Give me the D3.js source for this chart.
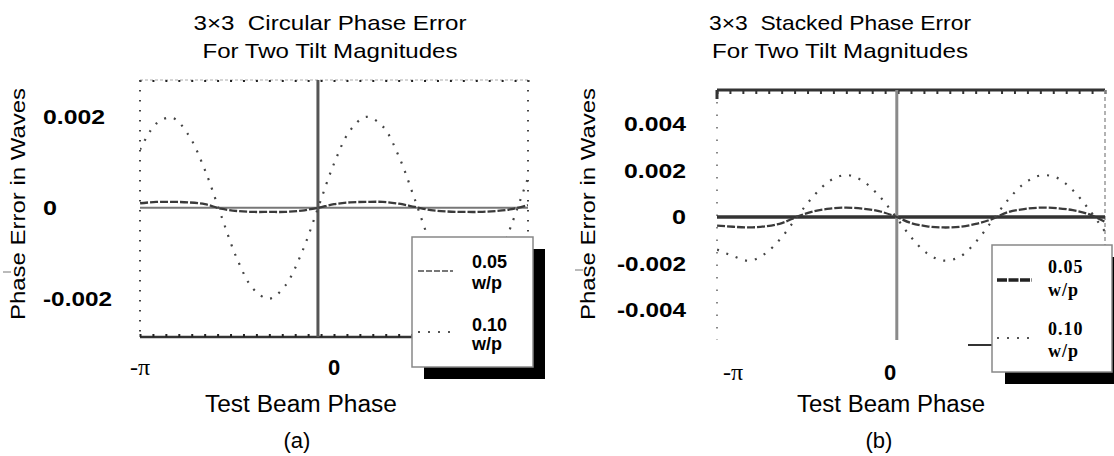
<!DOCTYPE html>
<html>
<head>
<meta charset="utf-8">
<script src="https://cdn.jsdelivr.net/npm/d3@7"></script>
<style>
  body { margin: 0; background: #fff; }
  svg { display: block; font-family: "Liberation Sans", Arial, Helvetica, sans-serif; }
</style>
</head>
<body>
<svg id="chart" width="1114" height="456"></svg>
<script>
// Test beam phase samples (radians), pi/12 apart
const phase = [-3.14, -2.88, -2.62, -2.36, -2.09, -1.83, -1.57, -1.31, -1.05, -0.79, -0.52, -0.26,
  0, 0.26, 0.52, 0.79, 1.05, 1.31, 1.57, 1.83, 2.09, 2.36, 2.62, 2.88, 3.14];

// Phase error, in thousandths of a wave
const circular005 = [0.10, 0.13, 0.13, 0.12, 0.08, -0.02, -0.07, -0.09, -0.09, -0.09, -0.06, 0.00,
  0.08, 0.12, 0.13, 0.13, 0.09, 0.02, -0.05, -0.08, -0.09, -0.09, -0.07, -0.03, 0.06];
const circular010 = [1.28, 1.85, 1.98, 1.61, 0.83, -0.16, -1.12, -1.78, -2.00, -1.71, -0.98, -0.01,
  0.97, 1.70, 2.00, 1.79, 1.13, 0.18, -0.82, -1.60, -1.98, -1.86, -1.26, -0.35, 0.65];
const stacked005 = [-0.37, -0.42, -0.45, -0.40, -0.26, 0.03, 0.25, 0.36, 0.40, 0.36, 0.25, 0.03,
  -0.26, -0.40, -0.45, -0.42, -0.30, -0.09, 0.21, 0.34, 0.40, 0.38, 0.29, 0.12, -0.21];
const stacked010 = [-1.40, -1.68, -1.88, -1.57, -0.86, 0.06, 0.92, 1.56, 1.80, 1.56, 0.92, 0.06,
  -0.86, -1.56, -1.87, -1.71, -1.07, -0.18, 0.73, 1.43, 1.78, 1.69, 1.15, 0.33, -0.62];

const xTicks = [-Math.PI, 0];
const xTickLabels = ["-π", "0"];
const circularTicks = [0.002, 0, -0.002];
const stackedTicks = [0.004, 0.002, 0, -0.002, -0.004];
const legendLabels = [["0.05", "w/p"], ["0.10", "w/p"]];

const svg = d3.select("#chart");

// the scanned figure has wide, heavy digits; stretch glyphs to its widths
const charW = (s) => Array.from(s).reduce((w, c) => w + (c === "." ? 6 : c === "-" ? 7 : 14), 0);
const tickText = (d) => (d === 0 ? "0" : d3.format(".3f")(d).replace("−", "-"));

const panels = [
  {
    id: "a", caption: "(a)",
    title: ["3×3  Circular Phase Error", "For Two Tilt Magnitudes"],
    titleX: 330, titleLen: [273, 255],
    box: { x0: 140, x1: 528, y0: 80, y1: 337 },
    yDomain: [-0.00284, 0.00281],
    yTicks: circularTicks,
    series: [circular005, circular010],
    vLineAt: -0.26,
    yLabelX: 43, yLabelAnchor: "start",
    yTitleX: 18,
    xLabelShift: [0, 0], xLabelY: 375,
    xTitleX: 301, xTitleLen: 192, captionX: 297,
    legend: { x: 412, y: 237, w: 121, h: 130, dx: 12, dy: 12, textX: 472,
      base: [268, 289, 331, 350], sampleX: [418, 453], sampleY: [271, 332],
      font: "'Liberation Sans', Arial, sans-serif", spacing: 0 },
    stray: [3, 11, 272]
  },
  {
    id: "b", caption: "(b)",
    title: ["3×3  Stacked Phase Error", "For Two Tilt Magnitudes"],
    titleX: 840, titleLen: [262, 256],
    box: { x0: 717, x1: 1105, y0: 90, y1: 340 },
    yDomain: [-0.00528, 0.00545],
    yTicks: stackedTicks,
    series: [stacked005, stacked010],
    vLineAt: -0.23,
    yLabelX: 686, yLabelAnchor: "end",
    yTitleX: 588,
    xLabelShift: [16, -21], xLabelY: 380,
    xTitleX: 891, xTitleLen: 188, captionX: 879,
    legend: { x: 992, y: 245, w: 120, h: 127, dx: 13, dy: 12, textX: 1048,
      base: [273, 296, 335, 357], sampleX: [997, 1032], sampleY: [280, 338],
      font: "'Liberation Serif', 'Times New Roman', serif", spacing: 1 },
    stray: [575, 583, 270]
  }
];

panels.forEach((p) => {
  const g = svg.append("g").attr("class", "panel-" + p.id);
  const b = p.box;
  const x = d3.scaleLinear().domain([-Math.PI, Math.PI]).range([b.x0, b.x1]);
  const y = d3.scaleLinear().domain(p.yDomain).range([b.y1, b.y0]);

  // titles
  p.title.forEach((t, i) => {
    g.append("text")
      .attr("x", p.titleX).attr("y", i === 0 ? 30 : 58)
      .attr("text-anchor", "middle")
      .attr("font-size", 21)
      .attr("textLength", p.titleLen[i]).attr("lengthAdjust", "spacingAndGlyphs")
      .style("white-space", "pre")
      .text(t);
  });

  // frame
  const dotTicks = d3.range(-Math.PI, Math.PI + 0.01, Math.PI / 15);
  if (p.id === "a") {
    g.append("line").attr("x1", b.x0).attr("x2", b.x1).attr("y1", b.y0).attr("y2", b.y0)
      .attr("stroke", "#c8c8c8").attr("stroke-width", 1.5).attr("stroke-dasharray", "3,2");
    g.append("g").attr("transform", `translate(0,${b.y0})`)
      .call(d3.axisBottom(x).tickValues(dotTicks).tickSize(2).tickFormat(""))
      .call((a) => a.select(".domain").remove())
      .selectAll("line").attr("stroke", "#222").attr("stroke-width", 2);
    [b.x0, b.x1].forEach((xx) => {
      g.append("line").attr("x1", xx).attr("x2", xx).attr("y1", b.y0).attr("y2", b.y1)
        .attr("stroke", "#444").attr("stroke-width", 2).attr("stroke-dasharray", "1.5,8.5");
    });
    g.append("line").attr("x1", b.x0).attr("x2", b.x1).attr("y1", b.y1).attr("y2", b.y1)
      .attr("stroke", "#333").attr("stroke-width", 2.5);
    g.append("g").attr("transform", `translate(0,${b.y1})`)
      .call(d3.axisTop(x).tickValues(dotTicks).tickSize(3).tickFormat(""))
      .call((a) => a.select(".domain").remove())
      .selectAll("line").attr("stroke", "#222").attr("stroke-width", 2);
  } else {
    g.append("line").attr("x1", b.x0).attr("x2", b.x1).attr("y1", b.y0).attr("y2", b.y0)
      .attr("stroke", "#333").attr("stroke-width", 3);
    g.append("g").attr("transform", `translate(0,${b.y0})`)
      .call(d3.axisBottom(x).tickValues(dotTicks).tickSize(4).tickFormat(""))
      .call((a) => a.select(".domain").remove())
      .selectAll("line").attr("stroke", "#333").attr("stroke-width", 2);
    g.append("line").attr("x1", b.x0).attr("x2", b.x0).attr("y1", b.y0).attr("y2", b.y0 + 9)
      .attr("stroke", "#333").attr("stroke-width", 3);
    g.append("line").attr("x1", b.x0).attr("x2", b.x0).attr("y1", b.y0 + 12).attr("y2", b.y1)
      .attr("stroke", "#888").attr("stroke-width", 2).attr("stroke-dasharray", "1.5,11");
    g.append("line").attr("x1", b.x1).attr("x2", b.x1).attr("y1", b.y0).attr("y2", b.y1)
      .attr("stroke", "#999").attr("stroke-width", 1.5).attr("stroke-dasharray", "4,3");
    g.append("line").attr("x1", 968).attr("x2", 992).attr("y1", 345).attr("y2", 345)
      .attr("stroke", "#333").attr("stroke-width", 2);
  }

  // zero line and vertical axis
  g.append("line").attr("x1", b.x0).attr("x2", b.x1).attr("y1", y(0)).attr("y2", y(0))
    .attr("stroke", p.id === "a" ? "#777" : "#333").attr("stroke-width", p.id === "a" ? 2 : 3.5);
  g.append("line").attr("x1", x(p.vLineAt)).attr("x2", x(p.vLineAt)).attr("y1", b.y0).attr("y2", b.y1)
    .attr("stroke", p.id === "a" ? "#555" : "#8a8a8a").attr("stroke-width", 3);

  // curves
  const clipId = "clip-" + p.id;
  g.append("clipPath").attr("id", clipId).append("rect")
    .attr("x", b.x0).attr("y", b.y0).attr("width", b.x1 - b.x0).attr("height", b.y1 - b.y0);
  const line = d3.line().x((d) => x(d[0])).y((d) => y(d[1] / 1000)).curve(d3.curveCatmullRom);
  p.series.forEach((vals, i) => {
    g.append("path")
      .attr("clip-path", `url(#${clipId})`)
      .attr("d", line(phase.map((ph, k) => [ph, vals[k]])))
      .attr("fill", "none")
      .attr("stroke", i === 0 ? "#3a3a3a" : "#444")
      .attr("stroke-width", i === 0 ? 2.3 : 2.2)
      .attr("stroke-dasharray", i === 0 ? "8,2" : "2,8");
  });

  // y tick labels
  g.selectAll("text.ytick").data(p.yTicks).enter().append("text")
    .attr("class", "ytick")
    .attr("x", p.yLabelX).attr("y", (d) => y(d))
    .attr("dy", "0.36em")
    .attr("text-anchor", p.yLabelAnchor)
    .attr("font-size", 20).attr("font-weight", "bold")
    .attr("textLength", (d) => charW(tickText(d)))
    .attr("lengthAdjust", "spacingAndGlyphs")
    .text(tickText);

  // x tick labels
  g.selectAll("text.xtick").data(xTicks).enter().append("text")
    .attr("class", "xtick")
    .attr("x", (d, i) => x(d) + p.xLabelShift[i]).attr("y", p.xLabelY)
    .attr("text-anchor", "middle")
    .attr("font-size", (d, i) => (i === 0 ? 24 : 22))
    .attr("font-weight", (d, i) => (i === 1 ? "bold" : "normal"))
    .attr("font-family", (d, i) => (i === 0 ? "'Liberation Serif', serif" : null))
    .text((d, i) => xTickLabels[i]);

  // axis titles
  g.append("text")
    .attr("transform", `translate(${p.yTitleX},204) rotate(-90)`)
    .attr("dy", "0.35em")
    .attr("text-anchor", "middle").attr("font-size", 21)
    .attr("textLength", 232).attr("lengthAdjust", "spacingAndGlyphs")
    .text("Phase Error in Waves");
  g.append("line").attr("x1", p.stray[0]).attr("x2", p.stray[1]).attr("y1", p.stray[2]).attr("y2", p.stray[2])
    .attr("stroke", "#777").attr("stroke-width", 1);
  g.append("text")
    .attr("x", p.xTitleX).attr("y", 412)
    .attr("text-anchor", "middle").attr("font-size", 23)
    .attr("textLength", p.xTitleLen).attr("lengthAdjust", "spacingAndGlyphs")
    .text("Test Beam Phase");
  g.append("text")
    .attr("x", p.captionX).attr("y", 448)
    .attr("text-anchor", "middle").attr("font-size", 22)
    .text(p.caption);

  // legend
  const L = p.legend;
  g.append("rect").attr("x", L.x + L.dx).attr("y", L.y + L.dy).attr("width", L.w).attr("height", L.h)
    .attr("fill", "#000");
  g.append("rect").attr("x", L.x).attr("y", L.y).attr("width", L.w).attr("height", L.h)
    .attr("fill", "#fff").attr("stroke", "#888").attr("stroke-width", 1.5);
  legendLabels.forEach((pair, i) => {
    pair.forEach((t, j) => {
      g.append("text")
        .attr("x", L.textX).attr("y", L.base[i * 2 + j])
        .attr("font-size", 18).attr("font-weight", "bold")
        .attr("font-family", L.font)
        .attr("letter-spacing", L.spacing)
        .text(t);
    });
    g.append("line")
      .attr("x1", L.sampleX[0]).attr("x2", L.sampleX[1])
      .attr("y1", L.sampleY[i]).attr("y2", L.sampleY[i])
      .attr("stroke", i === 0 ? (p.id === "a" ? "#777" : "#222") : "#555")
      .attr("stroke-width", i === 0 ? (p.id === "a" ? 2 : 3.5) : 2)
      .attr("stroke-dasharray", i === 0 ? (p.id === "a" ? "6,2" : "10,1.5") : "2,8");
  });
});
</script>
</body>
</html>
